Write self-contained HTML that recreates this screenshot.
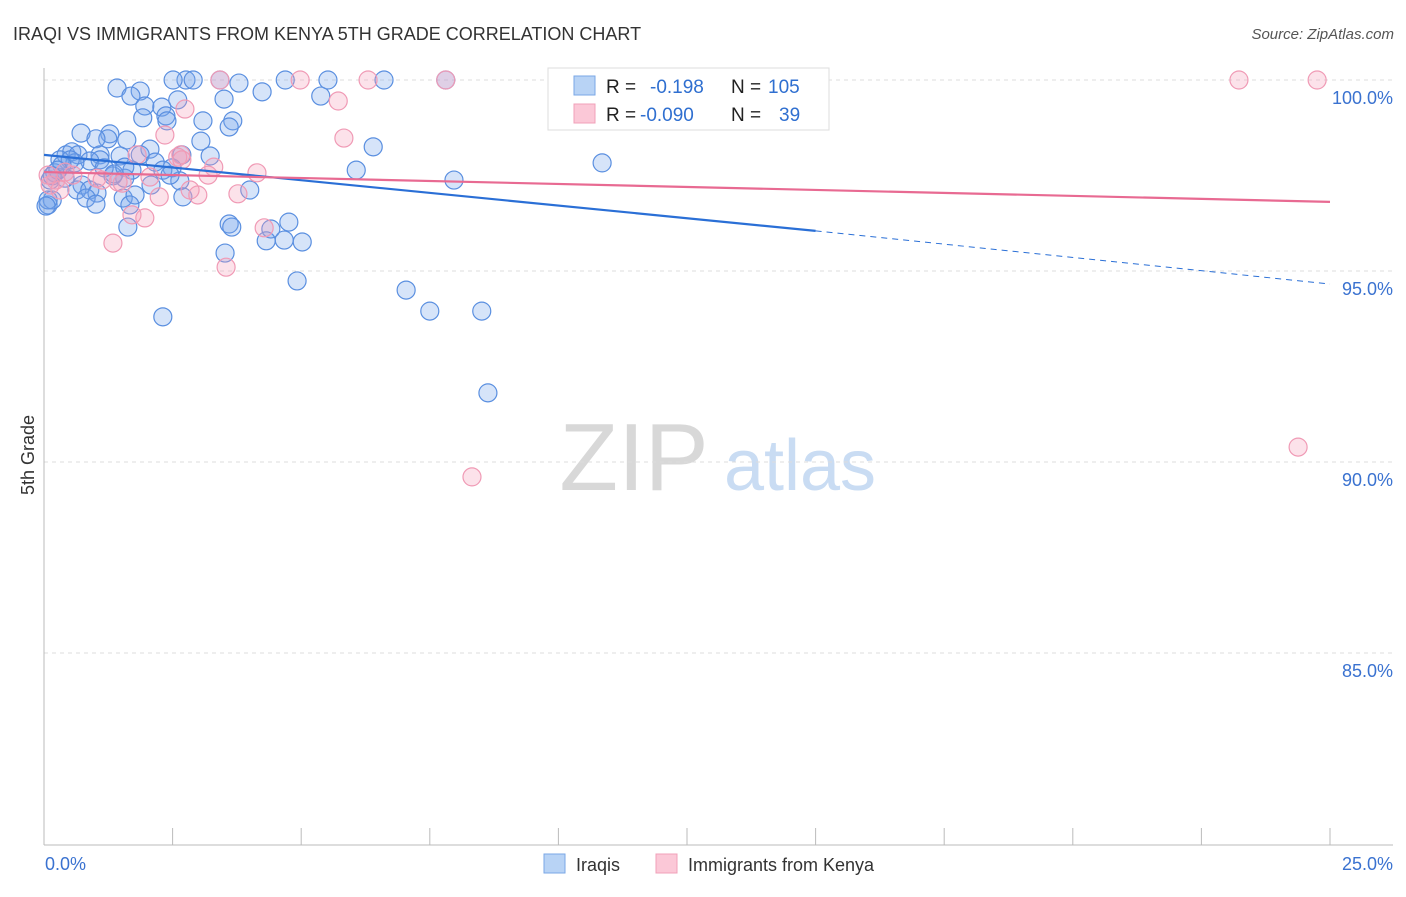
<!DOCTYPE html>
<html><head><meta charset="utf-8"><style>
body{margin:0;background:#fff;font-family:"Liberation Sans",sans-serif;}
svg text{font-family:"Liberation Sans",sans-serif;}
</style></head><body>
<svg id="chart" width="1406" height="892" xmlns="http://www.w3.org/2000/svg">
<text x="13" y="40" font-size="18" fill="#333">IRAQI VS IMMIGRANTS FROM KENYA 5TH GRADE CORRELATION CHART</text>
<text x="1394" y="39" font-size="15" fill="#555" font-style="italic" text-anchor="end">Source: ZipAtlas.com</text>
<text x="634" y="490" font-size="96" fill="#d8d8d8" font-family="Liberation Serif" text-anchor="middle">ZIP</text>
<text x="800" y="490" font-size="72" fill="#c9dcf3" text-anchor="middle">atlas</text>
<g id="grid"></g>
<g id="axes"></g>
<g id="marks"></g>
<g>
<rect x="548" y="68" width="281" height="62" fill="#fff" stroke="#ddd"/>
<rect x="574" y="76" width="21" height="19" fill="#b8d3f5" stroke="#7aa7e6"/>
<rect x="574" y="104" width="21" height="19" fill="#fbc8d7" stroke="#f0a0b8"/>
<text y="93" font-size="19"><tspan x="606" fill="#222">R = </tspan><tspan x="650" fill="#2f6fd0">-0.198</tspan><tspan x="731" fill="#222">N = </tspan><tspan x="768" fill="#2f6fd0">105</tspan></text>
<text y="121" font-size="19"><tspan x="606" fill="#222">R = </tspan><tspan x="640" fill="#2f6fd0">-0.090</tspan><tspan x="731" fill="#222">N = </tspan><tspan x="779" fill="#2f6fd0">39</tspan></text>
</g>
<g>
<rect x="544" y="854" width="21" height="19" fill="#b8d3f5" stroke="#7aa7e6"/>
<text x="576" y="871" font-size="18" fill="#333">Iraqis</text>
<rect x="656" y="854" width="21" height="19" fill="#fbc8d7" stroke="#f0a0b8"/>
<text x="688" y="871" font-size="18" fill="#333">Immigrants from Kenya</text>
</g>
<text transform="translate(34,455) rotate(-90)" font-size="18" fill="#333" text-anchor="middle">5th Grade</text>
</svg>
<script>
const yTicks=[100,95,90,85];
const yTickLabels=["100.0%","95.0%","90.0%","85.0%"];
const xTickLabels=["0.0%","25.0%"];
const iraqiX=[1.42,1.87,1.69,2.76,2.51,2.90,3.42,3.79,4.69,5.52,6.61,7.81,4.24,5.38,3.50,2.60,1.96,2.29,2.37,1.92,3.09,3.67,3.60,2.39,0.72,1.28,1.24,1.61,1.01,6.40,3.05,3.23,2.68,2.06,1.48,1.09,0.43,0.54,0.66,0.31,1.87,1.09,0.89,1.71,2.16,2.49,2.31,6.07,10.85,7.97,4.00,2.08,2.64,1.57,1.34,0.74,0.64,0.89,1.03,0.82,1.54,0.41,0.21,0.12,0.08,0.16,1.77,1.67,1.01,2.70,1.63,3.60,3.65,4.76,4.41,4.32,4.67,5.02,3.52,4.92,7.04,7.50,8.51,2.31,8.63,0.60,0.51,0.35,0.27,1.17,1.36,1.57,2.45,0.08,0.16,0.04];
const iraqiY=[99.79,99.71,99.58,100,100,100,100,99.92,100,100,100,100,99.69,99.58,99.50,99.48,99.32,99.29,99.06,99.01,98.93,98.93,98.77,98.93,98.61,98.59,98.46,98.43,98.46,98.25,98.40,98.01,98.04,98.19,98.01,98.04,98.04,98.12,98.04,97.91,98.04,97.91,97.88,97.64,97.85,97.70,97.64,97.64,97.83,97.38,97.12,97.25,97.36,97.43,97.49,97.25,97.12,97.12,97.04,96.91,96.91,97.43,97.57,97.38,96.73,96.86,96.99,96.73,96.75,96.94,96.15,96.23,96.15,96.28,96.10,95.79,95.81,95.76,95.47,94.74,94.50,93.95,93.95,93.80,91.81,97.83,97.91,97.77,97.64,97.70,97.54,97.72,97.51,96.86,97.49,96.70];
const kenyaX=[3.42,4.98,6.30,7.81,23.23,24.75,5.72,2.74,5.83,2.35,2.66,1.81,4.14,3.30,1.44,1.52,1.03,0.23,0.31,0.12,2.99,2.84,3.77,2.24,1.96,1.71,4.28,1.34,3.54,8.32,24.38,1.13,0.56,0.08,2.60,2.68,3.19,2.06,0.41];
const kenyaY=[100,100,100,100,100,100,99.45,99.24,98.48,98.56,98.04,98.04,97.57,97.72,97.33,97.30,97.43,97.38,97.12,97.25,96.99,97.12,97.02,96.94,96.39,96.47,96.13,95.73,95.10,89.61,90.39,97.38,97.51,97.51,97.98,97.91,97.51,97.46,97.59];
const iraqiTrendX=[0,15,25];
const iraqiTrendY=[98.04,96.05,94.66];
const kenyaTrendX=[0,25];
const kenyaTrendY=[97.59,96.81];

const NS="http://www.w3.org/2000/svg";
const X0=44,X1=1330,Y100=80,PXPER=38.2;
function sx(v){return X0+(X1-X0)*v/25;}
function sy(v){return Y100+(100-v)*PXPER;}
function mk(tag,attrs,parent){const e=document.createElementNS(NS,tag);for(const k in attrs)e.setAttribute(k,attrs[k]);parent.appendChild(e);return e;}
const grid=document.getElementById('grid'),axes=document.getElementById('axes'),marks=document.getElementById('marks');
yTicks.forEach((t,i)=>{
  const l=mk('line',{x1:X0,x2:1393,y1:sy(t),y2:sy(t),stroke:'#ddd','stroke-dasharray':'4,4'},grid);
  
  
  const tx=mk('text',{x:1393,y:sy(t)+24,'font-size':18,fill:'#3a72d0','text-anchor':'end'},grid);
  tx.textContent=yTickLabels[i];
  
  
});
const ya=mk('line',{x1:X0,x2:X0,y1:68,y2:845,stroke:'#bbb'},axes);


const xa=mk('line',{x1:X0,x2:1393,y1:845,y2:845,stroke:'#bbb'},axes);


for(let i=1;i<=10;i++){
  const t=mk('line',{x1:sx(i*2.5),x2:sx(i*2.5),y1:828,y2:845,stroke:'#bbb'},axes);
  
  
}
const xl0=mk('text',{x:45,y:870,'font-size':18,fill:'#3a72d0'},axes);
xl0.textContent=xTickLabels[0];


const xl1=mk('text',{x:1393,y:870,'font-size':18,fill:'#3a72d0','text-anchor':'end'},axes);
xl1.textContent=xTickLabels[1];



iraqiX.forEach((v,i)=>{
  const c=mk('circle',{cx:sx(v),cy:sy(iraqiY[i]),r:9,fill:'rgba(120,165,235,0.3)',stroke:'#5a8fe0','stroke-width':1.2},marks);
  
  
});
kenyaX.forEach((v,i)=>{
  const c=mk('circle',{cx:sx(v),cy:sy(kenyaY[i]),r:9,fill:'rgba(245,160,185,0.3)',stroke:'#f09ab5','stroke-width':1.2},marks);
  
  
});
const bl=mk('line',{x1:sx(iraqiTrendX[0]),y1:sy(iraqiTrendY[0]),x2:sx(iraqiTrendX[1]),y2:sy(iraqiTrendY[1]),stroke:'#2a6fd6','stroke-width':2.2},marks);


const bd=mk('line',{x1:sx(iraqiTrendX[1]),y1:sy(iraqiTrendY[1]),x2:sx(iraqiTrendX[2]),y2:sy(iraqiTrendY[2]),stroke:'#2a6fd6','stroke-width':1,'stroke-dasharray':'6,5'},marks);


const pl=mk('line',{x1:sx(kenyaTrendX[0]),y1:sy(kenyaTrendY[0]),x2:sx(kenyaTrendX[1]),y2:sy(kenyaTrendY[1]),stroke:'#e86a92','stroke-width':2.2},marks);


</script>
</body></html>
